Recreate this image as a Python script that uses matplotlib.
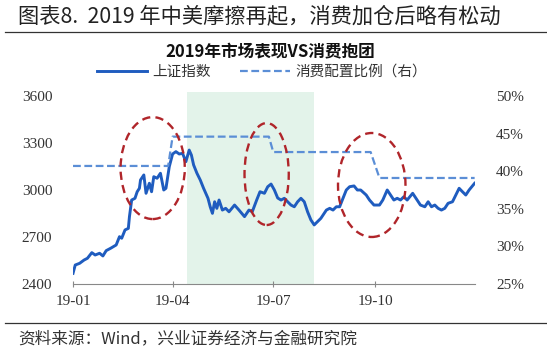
import matplotlib.pyplot as plt
import matplotlib.dates as mdates
from matplotlib.patches import Ellipse
from matplotlib.lines import Line2D
import numpy as np
import pandas as pd

plt.rcParams['font.family'] = ['Noto Sans CJK SC', 'DejaVu Sans']

# 上证指数
sh_dates = ['01-01', '01-03', '01-07', '01-11', '01-14', '01-18', '01-21', '01-25', '01-28', '01-31',
            '02-04', '02-09', '02-12', '02-14', '02-17', '02-20', '02-21', '02-23', '02-26', '02-28',
            '03-02', '03-03', '03-06', '03-08', '03-11', '03-13', '03-15', '03-18', '03-21', '03-24',
            '03-26', '03-29', '04-01', '04-04', '04-07', '04-10', '04-13', '04-16', '04-18', '04-20',
            '04-23', '04-26', '04-29', '05-03', '05-05', '05-07', '05-09', '05-11', '05-13', '05-16',
            '05-19', '05-22', '05-27', '05-31', '06-05', '06-09', '06-12', '06-16', '06-19', '06-23',
            '06-26', '06-29', '07-02', '07-05', '07-08', '07-11', '07-14', '07-17', '07-20', '07-23',
            '07-26', '07-29', '08-01', '08-04', '08-07', '08-10', '08-13', '08-18', '08-21', '08-24',
            '08-27', '08-30', '09-02', '09-05', '09-08', '09-12', '09-15', '09-18', '09-23', '09-26',
            '09-30', '10-05', '10-08', '10-12', '10-15', '10-18', '10-21', '10-24', '10-27', '10-30',
            '11-04', '11-07', '11-11', '11-15', '11-18', '11-21', '11-24', '11-27', '11-30', '12-03',
            '12-06', '12-10', '12-13', '12-16', '12-19', '12-22', '12-25', '12-30']
sh_values = [2468, 2521, 2532, 2553, 2564, 2600, 2585, 2596, 2579, 2613,
             2628, 2649, 2702, 2692, 2745, 2755, 2830, 2936, 2947, 2989,
             3011, 3064, 3096, 2979, 3043, 2989, 3085, 3075, 3107, 3000,
             3011, 3149, 3230, 3245, 3230, 3234, 3181, 3255, 3223, 3160,
             3107, 3064, 3011, 2947, 2893, 2851, 2925, 2883, 2936, 2872,
             2883, 2861, 2904, 2872, 2830, 2872, 2861, 2936, 2989, 2979,
             3021, 3038, 3000, 2949, 2936, 2947, 2925, 2904, 2893, 2925,
             2947, 2925, 2861, 2809, 2777, 2798, 2819, 2872, 2883, 2872,
             2893, 2893, 2947, 3000, 3021, 3026, 3000, 3000, 2968, 2936,
             2904, 2904, 2936, 3000, 2968, 2936, 2947, 2936, 2957, 2936,
             2979, 2947, 2904, 2893, 2925, 2893, 2904, 2883, 2872, 2883,
             2915, 2925, 2968, 3011, 2989, 2968, 3000, 3043]

# 消费配置比例 (%)
ratio_dates = ['01-01', '03-28', '04-01', '06-27', '07-01', '09-27', '10-05', '12-30']
ratio_values = [40.7, 40.7, 44.6, 44.6, 42.55, 42.55, 39.1, 39.1]

# highlighted ellipses: center date, center index level, width (days), height (points)
ellipse_centers = ['03-14', '06-25', '09-28']
ellipse_levels = [3140, 3102, 3032]
ellipse_widths = [58, 40, 61]
ellipse_heights = [651, 651, 664]

shade_start, shade_end = '04-14', '08-07'
x_ticks = ['01-01', '04-01', '07-01', '10-01']
x_tick_labels = ['19-01', '19-04', '19-07', '19-10']


def d(s):
    return pd.Timestamp('2019-' + s)


blue = '#1f5cbf'
light_blue = '#5b8ed6'
red = '#b0252a'

fig = plt.figure(figsize=(5.47, 3.48), dpi=100)
ax = fig.add_axes([0.1335, 0.184, 0.735, 0.540])
ax2 = ax.twinx()

ax.axvspan(d(shade_start), d(shade_end), ymin=0, ymax=1.02, color='#e3f3ea', lw=0, clip_on=False, zorder=0)
ax.plot([d(s) for s in sh_dates], sh_values, color=blue, lw=2.1, zorder=3)
ax2.plot([d(s) for s in ratio_dates], ratio_values, color=light_blue, lw=1.6,
         linestyle=(0, (3.5, 1.6)), zorder=2)

for c, lv, w, h in zip(ellipse_centers, ellipse_levels, ellipse_widths, ellipse_heights):
    e = Ellipse((mdates.date2num(d(c)), lv), w, h, transform=ax.transData, fill=False,
                edgecolor=red, lw=1.7, linestyle=(0, (3.5, 2.2)), zorder=5)
    ax2.add_patch(e)

start = d('01-01')
ax.set_xlim(start, start + pd.Timedelta(days=363.4))
ax.set_ylim(2400, 3600)
ax2.set_ylim(25, 50)

ax.set_yticks([2400, 2700, 3000, 3300, 3600])
ax2.set_yticks([25, 30, 35, 40, 45, 50])
ax2.set_yticklabels([f'{v}%' for v in [25, 30, 35, 40, 45, 50]])
ax.set_xticks([d(s) for s in x_ticks])
ax.set_xticklabels(x_tick_labels)

for a in (ax, ax2):
    for sp in ['top', 'left', 'right', 'bottom']:
        a.spines[sp].set_visible(False)
    for lab in a.get_yticklabels() + a.get_xticklabels():
        lab.set_family('Liberation Serif')
        lab.set_fontsize(11)
        lab.set_color('#333333')
ax.spines['bottom'].set_visible(True)
ax.spines['bottom'].set_color('#888888')
ax.tick_params(axis='y', length=0, pad=15)
ax2.tick_params(axis='y', length=0, pad=15)
ax.tick_params(axis='x', length=4, direction='inout', color='#888888', pad=6)

handles = [Line2D([], [], color=blue, lw=2.1),
           Line2D([], [], color=light_blue, lw=1.6, linestyle=(0, (3.5, 1.6)))]
fig.legend(handles, ['上证指数', '消费配置比例（右）'], loc='center', ncol=2,
           bbox_to_anchor=(262 / 547, 0.793), frameon=False, fontsize=10.5,
           handlelength=3.4, columnspacing=2.0, handletextpad=0.4, labelcolor='#333333')

fig.text(270 / 547, 1 - 52 / 348, '2019年市场表现VS消费抱团', ha='center', va='center',
         fontsize=12, fontweight='bold', color='#111111')
fig.text(18 / 547, 1 - 16 / 348, '图表8.  2019 年中美摩擦再起，消费加仓后略有松动',
         ha='left', va='center', fontsize=15.3, color='#222222')
fig.text(18 / 547, 1 - 339 / 348, '资料来源：Wind，兴业证券经济与金融研究院',
         ha='left', va='center', fontsize=12, color='#333333')

fig.add_artist(Line2D([5 / 547, 1], [1 - 32 / 348] * 2, color='#333333', lw=0.9))
fig.add_artist(Line2D([5 / 547, 1], [1 - 323 / 348] * 2, color='#333333', lw=0.9))

fig.savefig('out.png', dpi=100)
